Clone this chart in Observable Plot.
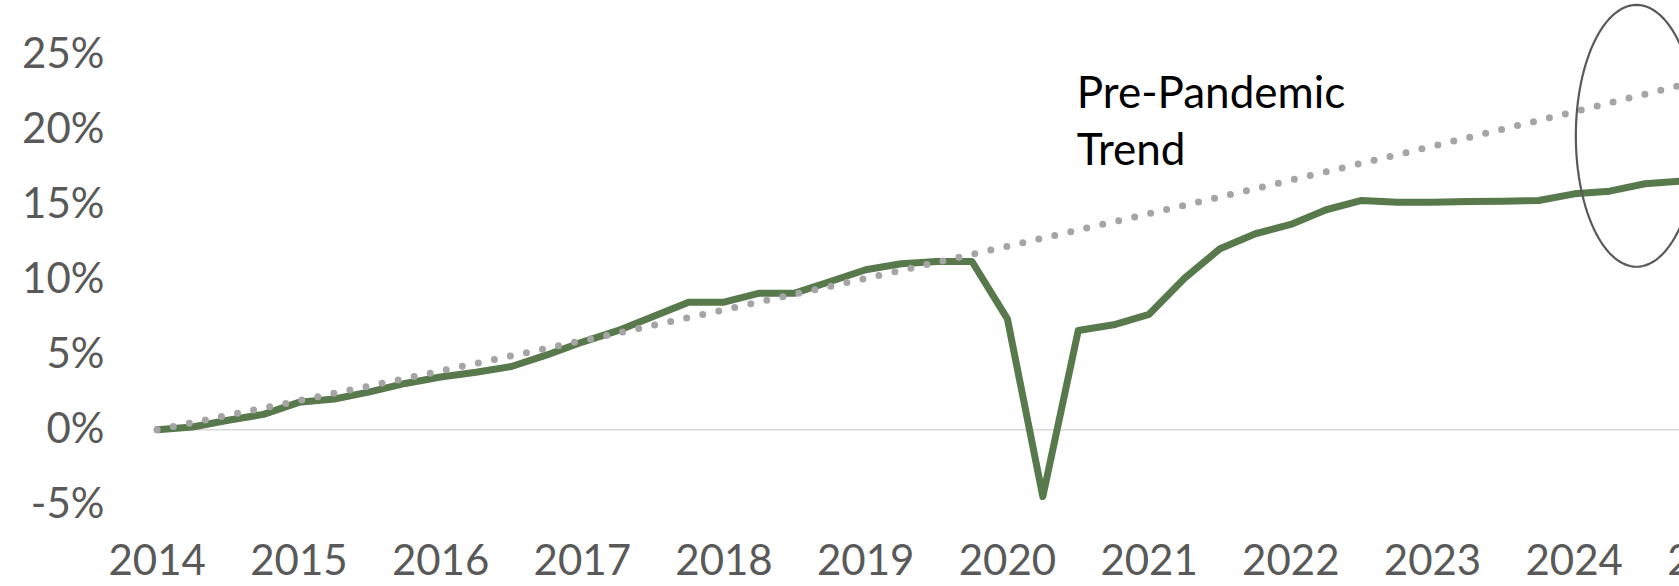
<!DOCTYPE html>
<html><head><meta charset="utf-8">
<script src="https://cdn.jsdelivr.net/npm/d3@7"></script>
<script src="https://cdn.jsdelivr.net/npm/@observablehq/plot@0.6"></script>
<style>
html,body{margin:0;padding:0;background:#fff;overflow:hidden;}
#chart svg{display:block;}
</style></head><body><div id="chart"></div>
<script>
// Quarterly series, first point = 2014 Q1
const startYear = 2014;
const actualValues = [
  0, 0.19, 0.64, 1.03, 1.83, 2.05, 2.53, 3.09, 3.52, 3.84, 4.22, 4.99,
  5.85, 6.61, 7.55, 8.51, 8.51, 9.11, 9.11, 9.89, 10.67, 11.07, 11.22, 11.22,
  7.4, -4.45, 6.62, 7.0, 7.7, 10.1, 12.07, 13.07, 13.69, 14.67, 15.29, 15.17,
  15.17, 15.22, 15.24, 15.29, 15.73, 15.91, 16.4, 16.57
];
// Pre-pandemic trend, read at each year start
const trendYears = [2014, 2015, 2016, 2017, 2018, 2019, 2020, 2021, 2022, 2023, 2024, 2025];
const trendValues = [0, 1.94, 3.92, 5.94, 8.0, 10.09, 12.23, 14.41, 16.64, 18.9, 21.2, 23.56];
const xTicks = [2014, 2015, 2016, 2017, 2018, 2019, 2020, 2021, 2022, 2023, 2024, 2025];
const yTicks = [-5, 0, 5, 10, 15, 20, 25];
const annotationText = ["Pre-Pandemic\nTrend"];
const annotationPos = [2020.49, 24.15];
// highlight ellipse: center year, center %, x radius (years), y radius (%)
const ellipseParams = [2024.44, 19.6, 0.4285, 8.73];

const actual = actualValues.map((v, i) => ({t: startYear + i / 4, v}));
const trend = trendYears.map((t, i) => ({t, v: trendValues[i]}));
const [ecx, ecy, erx, ery] = ellipseParams;
const ellipse = d3.range(0, 360, 3).map(a => ({
  t: ecx + erx * Math.cos(a * Math.PI / 180),
  v: ecy + ery * Math.sin(a * Math.PI / 180)
}));

const font = "Lato, 'Open Sans', sans-serif";
const chart = Plot.plot({
  width: 1679, height: 586,
  marginLeft: 157, marginRight: 0, marginTop: 0, marginBottom: 82,
  style: {fontFamily: font, background: "#fff"},
  x: {domain: [2014, 2025], range: [156.7, 156.7 + 141.7 * 11], label: null},
  y: {domain: [-5, 25], range: [504.3, 54.3], label: null},
  marks: [
    Plot.ruleY([0], {stroke: "#D9D9D9", strokeWidth: 1.5}),
    Plot.axisY(yTicks, {tickSize: 0, tickPadding: 53, tickFormat: d => d + "%", fontSize: 42, fill: "#595959", label: null}),
    Plot.axisX(xTicks, {tickSize: 0, tickPadding: 41, tickFormat: d => String(d), fontSize: 42, fill: "#595959", label: null}),
    Plot.line(actual, {x: "t", y: "v", stroke: "#57794B", strokeWidth: 7, strokeLinejoin: "round", strokeLinecap: "round"}),
    Plot.line(trend, {x: "t", y: "v", stroke: "#A5A5A5", strokeWidth: 7, strokeDasharray: "0 16.4", strokeLinecap: "round"}),
    Plot.line(ellipse, {x: "t", y: "v", stroke: "#595959", strokeWidth: 2.2, curve: "linear-closed"}),
    Plot.text(annotationText, {x: () => annotationPos[0], y: () => annotationPos[1], text: d => d, textAnchor: "start", lineAnchor: "top", fontSize: 44, fill: "#000", lineHeight: 1.3})
  ]
});
document.getElementById("chart").appendChild(chart);
</script></body></html>
